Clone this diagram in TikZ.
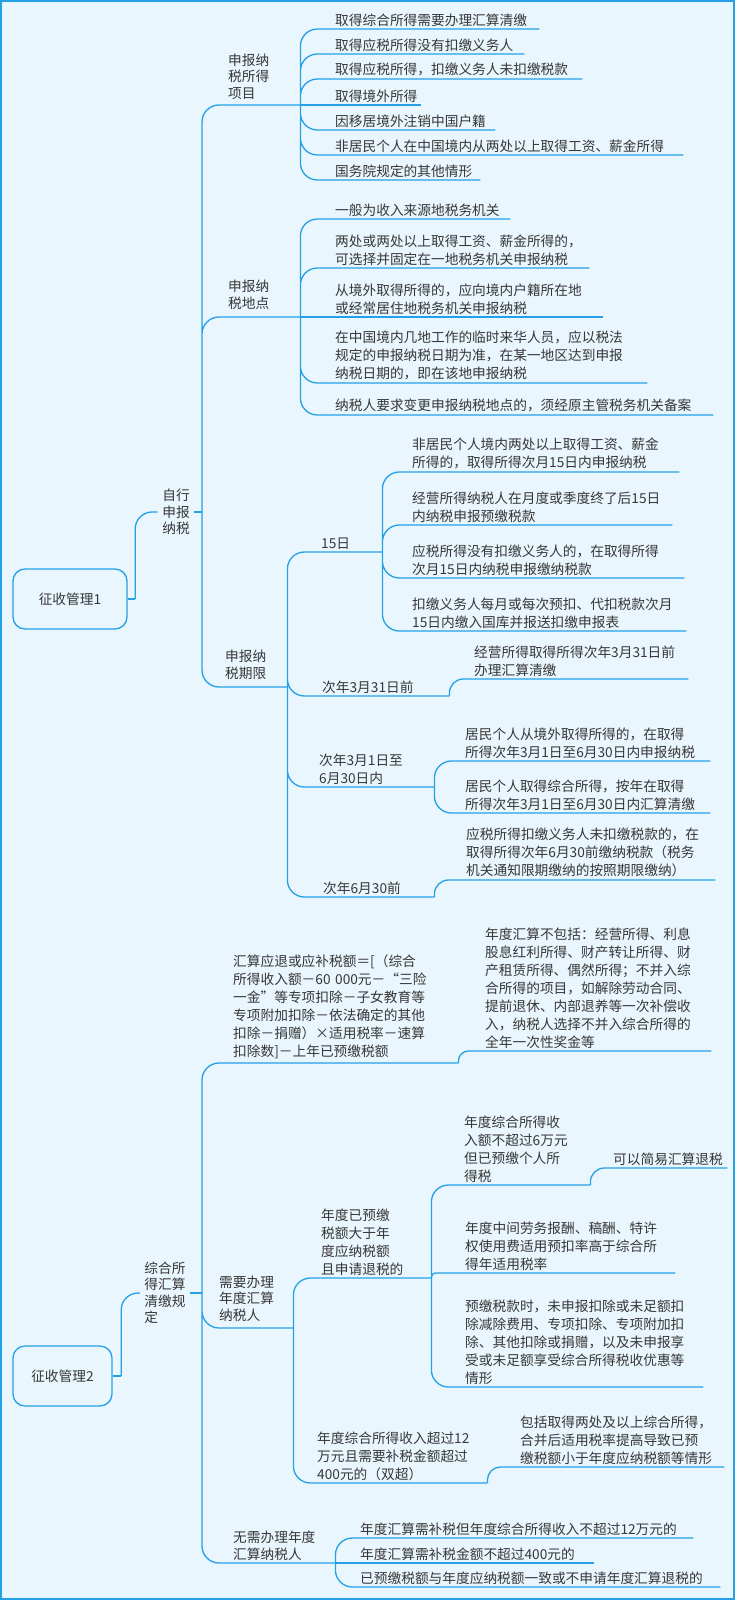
\documentclass[tikz,border=0pt]{standalone}
\usepackage{fontspec}
\setmainfont{Noto Sans CJK SC}
\definecolor{mline}{RGB}{36,160,230}
\definecolor{bgc}{RGB}{233,246,253}
\definecolor{txt}{RGB}{55,55,55}
\tikzset{
  leaf/.style={anchor=south west, inner xsep=0pt, inner ysep=2.5pt, align=left, text=txt, font=\fontsize{13.7}{18}\selectfont},
  lab/.style={leaf, font=\fontsize{13.7}{16.5}\selectfont},
  mid/.style={inner xsep=4.5pt, align=left, text=txt, font=\fontsize{13.7}{16.5}\selectfont},
  root/.style={draw=mline, line width=1.3pt, rounded corners=12pt, minimum height=60pt, text=txt, font=\fontsize{13.7}{18}\selectfont},
  conn/.style={draw=mline, line width=1.3pt},
  branch/.style={conn, rounded corners=17pt}
}
\begin{document}
\begin{tikzpicture}[x=1pt, y=-1pt]
	\useasboundingbox (0,0) rectangle (735,1600);
	\fill[bgc] (0,0) rectangle (735,1600);
	\draw[mline, line width=2pt] (1,1) rectangle (734,1599);
	\node[root, minimum width=114pt] (zs1) at (70,599) {征收管理1};
	\node[mid] (zxsb) at (176,512) {自行\\申报\\纳税};
	\coordinate (zxj) at (202,512);
	\node[lab, inner ysep=5.5pt, text width=72pt] (sdxm) at (228,105) {申报纳\\税所得\\项目};
	\node[lab, inner ysep=7.5pt, text width=72pt] (sbdd) at (228,317) {申报纳\\税地点};
	\node[lab, inner ysep=7.5pt, text width=62pt] (sbqx) at (225,687) {申报纳\\税期限};
	\node[leaf, text width=204pt] (xm1) at (335,29) {取得综合所得需要办理汇算清缴};
	\node[leaf, text width=189pt] (xm2) at (335,54) {取得应税所得没有扣缴义务人};
	\node[leaf, text width=247pt] (xm3) at (335,79) {取得应税所得，扣缴义务人未扣缴税款};
	\node[leaf, text width=86pt] (xm4) at (335,105) {取得境外所得};
	\node[leaf, text width=160pt] (xm5) at (335,130) {因移居境外注销中国户籍};
	\node[leaf, text width=348pt] (xm6) at (335,155) {非居民个人在中国境内从两处以上取得工资、薪金所得};
	\node[leaf, text width=145pt] (xm7) at (335,180) {国务院规定的其他情形};
	\node[leaf, text width=175pt] (dd1) at (335,219) {一般为收入来源地税务机关};
	\node[leaf, text width=254pt] (dd2) at (335,268) {两处或两处以上取得工资、薪金所得的，\\可选择并固定在一地税务机关申报纳税};
	\node[leaf, text width=268pt] (dd3) at (335,317) {从境外取得所得的，应向境内户籍所在地\\或经常居住地税务机关申报纳税};
	\node[leaf, text width=312pt] (dd4) at (335,383) {在中国境内几地工作的临时来华人员，应以税法\\规定的申报纳税日期为准，在某一地区达到申报\\纳税日期的，即在该地申报纳税};
	\node[leaf, text width=378pt] (dd5) at (335,415) {纳税人要求变更申报纳税地点的，须经原主管税务机关备案};
	\node[leaf, text width=61pt] (q15) at (321,552) {15日};
	\node[leaf, text width=267pt] (q15a) at (412,472) {非居民个人境内两处以上取得工资、薪金\\所得的，取得所得次月15日内申报纳税};
	\node[leaf, text width=260pt] (q15b) at (412,525) {经营所得纳税人在月度或季度终了后15日\\内纳税申报预缴税款};
	\node[leaf, text width=272pt] (q15c) at (412,578) {应税所得没有扣缴义务人的，在取得所得\\次月15日内纳税申报缴纳税款};
	\node[leaf, text width=274pt] (q15d) at (412,631) {扣缴义务人每月或每次预扣、代扣税款次月\\15日内缴入国库并报送扣缴申报表};
	\node[leaf, text width=127pt] (q331) at (322,696) {次年3月31日前};
	\node[leaf, text width=214pt] (q331a) at (474,679) {经营所得取得所得次年3月31日前\\办理汇算清缴};
	\node[leaf, text width=115pt] (q36) at (319,787) {次年3月1日至\\6月30日内};
	\node[leaf, text width=245pt] (q36a) at (465,761) {居民个人从境外取得所得的，在取得\\所得次年3月1日至6月30日内申报纳税};
	\node[leaf, text width=245pt] (q36b) at (465,813) {居民个人取得综合所得，按年在取得\\所得次年3月1日至6月30日内汇算清缴};
	\node[leaf, text width=111pt] (q630) at (323,897) {次年6月30前};
	\node[leaf, text width=249pt] (q630a) at (466,880) {应税所得扣缴义务人未扣缴税款的，在\\取得所得次年6月30前缴纳税款（税务\\机关通知限期缴纳的按照期限缴纳）};
	\draw[conn] (zs1.east) -- ++(7.5,0) coordinate (zs1j);
	\draw[branch] (zs1j) |- (zxsb.west);
	\draw[conn] (zxsb.east) -- (zxj);
	\draw[branch] (zxj) |- (sdxm.south east) (zxj) |- (sbdd.south east) (zxj) |- (sbqx.south east);
	\draw[branch] (sdxm.south east) |- (xm1.south east) (sdxm.south east) |- (xm2.south east)
	(sdxm.south east) |- (xm3.south east) (sdxm.south east) |- (xm5.south east)
	(sdxm.south east) |- (xm6.south east) (sdxm.south east) |- (xm7.south east);
	\draw[conn] (sdxm.south east) -- (xm4.south east);
	\draw[branch] (sbdd.south east) |- (dd1.south east) (sbdd.south east) |- (dd2.south east)
	(sbdd.south east) |- (dd4.south east) (sbdd.south east) |- (dd5.south east);
	\draw[conn] (sbdd.south east) -- (dd3.south east);
	\draw[branch] (sbqx.south east) |- (q15.south east) (sbqx.south east) |- (q331.south east)
	(sbqx.south east) |- (q36.south east) (sbqx.south east) |- (q630.south east);
	\draw[branch] (q15.south east) |- (q15a.south east) (q15.south east) |- (q15b.south east)
	(q15.south east) |- (q15c.south east) (q15.south east) |- (q15d.south east);
	\draw[branch, rounded corners=14pt] (q331.south east) |- (q331a.south east);
	\draw[branch] (q36.south east) |- (q36a.south east) (q36.south east) |- (q36b.south east);
	\draw[branch, rounded corners=14pt] (q630.south east) |- (q630a.south east);
	\node[root, minimum width=99pt] (zs2) at (62.5,1376) {征收管理2};
	\node[mid] (hsqj) at (165,1293) {综合所\\得汇算\\清缴规\\定};
	\coordinate (hsqjj) at (202,1293);
	\node[leaf, inner ysep=4pt, text width=225pt] (gs) at (233,1063) {汇算应退或应补税额＝[（综合\\所得收入额－60 000元－“三险\\一金”等专项扣除－子女教育等\\专项附加扣除－依法确定的其他\\扣除－捐赠）×适用税率－速算\\扣除数]－上年已预缴税额};
	\node[leaf, text width=226pt] (gsa) at (485,1051) {年度汇算不包括：经营所得、利息\\股息红利所得、财产转让所得、财\\产租赁所得、偶然所得；不并入综\\合所得的项目，如解除劳动合同、\\提前退休、内部退养等一次补偿收\\入，纳税人选择不并入综合所得的\\全年一次性奖金等};
	\node[lab, inner ysep=6.5pt, text width=74pt] (xb) at (219,1328) {需要办理\\年度汇算\\纳税人};
	\node[leaf, text width=110pt] (xba) at (321,1278) {年度已预缴\\税额大于年\\度应纳税额\\且申请退税的};
	\node[leaf, text width=126pt] (xba1) at (464,1185) {年度综合所得收\\入额不超过6万元\\但已预缴个人所\\得税};
	\node[leaf, text width=114pt] (xba1a) at (613,1168) {可以简易汇算退税};
	\node[leaf, text width=210pt] (xba2) at (465,1273) {年度中间劳务报酬、稿酬、特许\\权使用费适用预扣率高于综合所\\得年适用税率};
	\node[leaf, text width=238pt] (xba3) at (465,1387) {预缴税款时，未申报扣除或未足额扣\\除减除费用、专项扣除、专项附加扣\\除、其他扣除或捐赠，以及未申报享\\受或未足额享受综合所得税收优惠等\\情形};
	\node[leaf, text width=170pt] (xbb) at (317,1483) {年度综合所得收入超过12\\万元且需要补税金额超过\\400元的（双超）};
	\node[leaf, text width=204pt] (xbba) at (520,1467) {包括取得两处及以上综合所得，\\合并后适用税率提高导致已预\\缴税额小于年度应纳税额等情形};
	\node[lab, text width=102pt] (wx) at (233,1563) {无需办理年度\\汇算纳税人};
	\node[leaf, text width=333pt] (wx1) at (360,1538) {年度汇算需补税但年度综合所得收入不超过12万元的};
	\node[leaf, text width=234pt] (wx2) at (360,1563) {年度汇算需补税金额不超过400元的};
	\node[leaf, text width=360pt] (wx3) at (360,1587) {已预缴税额与年度应纳税额一致或不申请年度汇算退税的};
	\draw[conn] (zs2.east) -- ++(8.5,0) coordinate (zs2j);
	\draw[branch] (zs2j) |- (hsqj.west);
	\draw[conn] (hsqj.east) -- (hsqjj);
	\draw[branch] (hsqjj) |- (gs.south east) (hsqjj) |- (xb.south east) (hsqjj) |- (wx.south east);
	\draw[branch, rounded corners=10pt] (gs.south east) |- (gsa.south east);
	\draw[branch] (xb.south east) |- (xba.south east) (xb.south east) |- (xbb.south east);
	\draw[branch] (xba.south east) |- (xba1.south east) (xba.south east) |- (xba3.south east);
	\draw[branch, rounded corners=4pt] (xba.south east) |- (xba2.south east);
	\draw[branch, rounded corners=14pt] (xba1.south east) |- (xba1a.south east);
	\draw[branch, rounded corners=13pt] (xbb.south east) |- (xbba.south east);
	\draw[branch] (wx.south east) |- (wx1.south east) (wx.south east) |- (wx3.south east);
	\draw[conn] (wx.south east) -- (wx2.south east);
\end{tikzpicture}
\end{document}
